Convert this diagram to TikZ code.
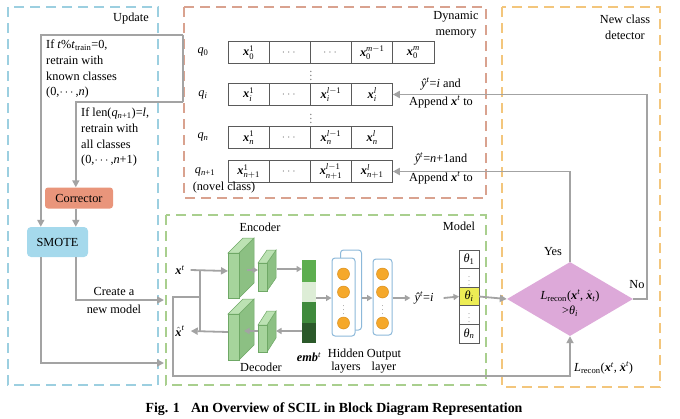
\documentclass[tikz,border=0pt]{standalone}
\usepackage{amsmath}
\usepackage{fontspec}
\setmainfont{Liberation Serif}
\usetikzlibrary{arrows.meta,shapes.geometric,calc}
\definecolor{lgray}{HTML}{A3A3A3}
\definecolor{cupd}{HTML}{9CCFE0}
\definecolor{cmem}{HTML}{D9A28F}
\definecolor{cdet}{HTML}{F3C67C}
\definecolor{cmod}{HTML}{A9CF8E}
\definecolor{ccorr}{HTML}{E9957B}
\definecolor{csmote}{HTML}{A5D9EC}
\definecolor{cdia}{HTML}{DDA9D9}
\definecolor{gfront}{HTML}{A6D49C}
\definecolor{gside}{HTML}{8CC083}
\definecolor{gtop}{HTML}{BCE2B3}
\definecolor{gedge}{HTML}{6FA866}
\definecolor{emba}{HTML}{5DAE4F}
\definecolor{embb}{HTML}{DDEDD6}
\definecolor{embc}{HTML}{3F8A3C}
\definecolor{embd}{HTML}{2B592A}
\definecolor{nblue}{HTML}{8DB9DA}
\definecolor{norange}{HTML}{F5A82A}
\definecolor{norangeb}{HTML}{D98E1C}
\definecolor{cyel}{HTML}{EDED55}
\definecolor{cellc}{HTML}{5A5A5A}
\newcommand{\I}[1]{\textit{#1}}
\newcommand{\R}[1]{\textup{#1}}
\newcommand{\bx}{\textbf{\textit{x}}}
\newcommand{\gblock}[6]{%
  \filldraw[fill=gside,draw=gedge,line width=.5pt] (#1+#3,#2) -- ++(#5,-#6) -- ++(0,#4) -- ++(-#5,#6) -- cycle;
  \filldraw[fill=gtop,draw=gedge,line width=.5pt] (#1,#2) -- ++(#5,-#6) -- ++(#3,0) -- ++(-#5,#6) -- cycle;
  \filldraw[fill=gfront,draw=gedge,line width=.5pt] (#1,#2) rectangle ++(#3,#4);
}
\tikzset{
  conn/.style={draw=lgray,line width=1.8pt},
  arr/.style={conn,-{Triangle[length=7pt,width=7pt]}},
  arrs/.style={conn,-{Triangle[length=5.5pt,width=6pt]}},
  dbox/.style={line width=1.3pt,dash pattern=on 10pt off 6pt},
  cell/.style={draw=cellc,line width=0.9pt,minimum width=41.2pt,minimum height=22pt,inner sep=0pt,outer sep=0pt,fill=white},
  tcell/.style={draw=cellc,line width=0.9pt,minimum width=20pt,minimum height=18.6pt,inner sep=0pt,outer sep=0pt,fill=white},
  lay/.style={draw=nblue,line width=1pt,rounded corners=3pt,fill=white,inner sep=0pt},
  neu/.style={circle,fill=norange,draw=norangeb,line width=0.5pt,minimum size=12pt,inner sep=0pt},
  lbl/.style={inner sep=0pt,align=center},
  dts/.style={inner sep=0pt,text=gray},
}
\begin{document}
\begin{tikzpicture}[x=1pt,y=-1pt,font=\fontsize{12.3}{15.6}\selectfont]
\useasboundingbox (0,0) rectangle (680,418);
% dashed regions
\draw[dbox,draw=cupd] (8,7) rectangle (158,385);
\draw[dbox,draw=cmem] (184,7) rectangle (486,198);
\draw[dbox,draw=cdet] (502,7) rectangle (660,387);
\draw[dbox,draw=cmod] (166,215) rectangle (486,385);
% titles
\node[lbl] (tup) at (131,19) {Update};
\node[lbl] (tmem) at (456,25) {Dynamic\\memory};
\node[lbl] (tdet) at (625,27) {New class\\detector};
\node[lbl] (tmod) at (459,226) {Model};
% update texts
\node[lbl,align=left,anchor=north west] (u1) at (46,40) {If \I{t}\%\I{t}\textsubscript{train}=0,\\retrain with\\known classes\\(0,$\cdots$,\I{n})};
\node[lbl,align=left,anchor=north west] (u2) at (81,108) {If len(\I{q}\textsubscript{\I{n}+1})=\I{l},\\retrain with\\all classes\\(0,$\cdots$,\I{n}+1)};
\node[fill=ccorr,rounded corners=3pt,minimum width=68pt,minimum height=21pt,inner sep=0pt] (corr) at (79,198) {Corrector};
\node[fill=csmote,rounded corners=4pt,minimum width=61pt,minimum height=30pt,inner sep=0pt] (smote) at (57.5,242) {SMOTE};
% memory rows
\node[cell] (a1) at (248.6,52.5) {$\bx^{\R{1}}_{\R{0}}$};
\node[cell] (a2) at (289.8,52.5) {\color{gray}$\cdots$};
\node[cell] (a3) at (331,52.5) {\color{gray}$\cdots$};
\node[cell] (a4) at (372.2,52.5) {$\bx^{\I{m}-\R{1}}_{\R{0}}$};
\node[cell] (a5) at (413.4,52.5) {$\bx^{\I{m}}_{\R{0}}$};
\node[cell] (i1) at (248.6,94.5) {$\bx^{\R{1}}_{\I{i}}$};
\node[cell] (i2) at (289.8,94.5) {\color{gray}$\cdots$};
\node[cell] (i3) at (331,94.5) {$\bx^{\I{l}-\R{1}}_{\I{i}}$};
\node[cell] (i4) at (372.2,94.5) {$\bx^{\I{l}}_{\I{i}}$};
\node[cell] (n1) at (248.6,137.5) {$\bx^{\R{1}}_{\I{n}}$};
\node[cell] (n2) at (289.8,137.5) {\color{gray}$\cdots$};
\node[cell] (n3) at (331,137.5) {$\bx^{\I{l}-\R{1}}_{\I{n}}$};
\node[cell] (n4) at (372.2,137.5) {$\bx^{\I{l}}_{\I{n}}$};
\node[cell] (m1) at (248.6,171.5) {$\bx^{\R{1}}_{\I{n}+\R{1}}$};
\node[cell] (m2) at (289.8,171.5) {\color{gray}$\cdots$};
\node[cell] (m3) at (331,171.5) {$\bx^{\I{l}-\R{1}}_{\I{n}+\R{1}}$};
\node[cell] (m4) at (372.2,171.5) {$\bx^{\I{l}}_{\I{n}+\R{1}}$};
\node[dts] (vd1) at (311,73) {$\vdots$};
\node[dts] (vd2) at (311,116) {$\vdots$};
\node[lbl] (q0) at (203,52) {\I{q}\textsubscript{0}};
\node[lbl] (qi) at (203,95) {\I{q}\textsubscript{\I{i}}};
\node[lbl] (qn) at (203,137) {\I{q}\textsubscript{\I{n}}};
\node[lbl] (qm) at (205,172) {\I{q}\textsubscript{\I{n}+1}};
\node[lbl] (nov) at (224,188) {(novel class)};
% bracket from memory to update
\coordinate (b1) at (183,35);
\coordinate (b2) at (183,102);
\draw[conn] (b1) -- (b2);
\draw[arr] (b1) -| ($(smote.north west)+(14,0)$);
\draw[arr] (b2) -| ($(corr.north west)+(31,0)$);
\draw[arr] ($(corr.south west)+(31,0)$) -- ($(smote.north west)+(49,0)$);
% SMOTE to model
\coordinate (mm1) at (164,300);
\coordinate (mm2) at (164,363);
\draw[arr] ($(smote.south west)+(49,0)$) |- (mm1);
\draw[arr] ($(smote.south west)+(14,0)$) |- (mm2);
\node[lbl,align=center] (cnm) at (114,300) {Create a\\[2.4pt]new model};
% model internals
\node[lbl] (xt) at (180,270) {$\bx^{\I{t}}$};
\node[lbl] (xh) at (180,331) {$\hat{\bx}^{\I{t}}$};
\gblock{228}{253}{11}{45}{15}{15}
\gblock{258}{263}{9}{28}{9}{13}
\gblock{228}{314}{11}{46}{15}{15}
\gblock{258}{325}{9}{27}{9}{14}
\coordinate (enc) at (228,271);
\coordinate (dec) at (228,332);
\coordinate (j1) at (200,271);
\coordinate (j2) at (200,332);
\coordinate (j3) at (200,297);
\coordinate (c1) at (173,376);
\draw[arr] ([xshift=6pt]xt.east) -- (enc);
\draw[arr] (dec) -- ([xshift=6pt]xh.east);
\draw[conn] (j1) -- (j2);
\draw[arrs] (247,270) -- (258,270);
\draw[arrs] (277,269) -- (302,269);
\draw[arrs] (302,331) -- (276,331);
\draw[arrs] (258,331) -- (244,331);
% emb
\fill[emba] (302,260) rectangle (316,282);
\fill[embb] (302,282) rectangle (316,302);
\fill[embc] (302,302) rectangle (316,323);
\fill[embd] (302,323) rectangle (316,343);
\node[minimum width=14pt,minimum height=83pt,inner sep=0pt] (emb) at (309,301.5) {};
\node[lbl] (embl) at (309,357) {\textbf{\textit{emb}}\textsuperscript{\I{t}}};
% layers
\node[lay,minimum width=21pt,minimum height=80pt] (hidb) at (351,290) {};
\node[lay,minimum width=23pt,minimum height=78pt] (hid) at (343.5,297) {};
\node[lay,minimum width=19pt,minimum height=76pt] (out) at (382.5,297) {};
\node[neu] (h1) at (343.5,274) {};
\node[neu] (h2) at (343.5,292) {};
\node[neu] (h3) at (343.5,323) {};
\node[neu] (o1) at (382.5,274) {};
\node[neu] (o2) at (382.5,292) {};
\node[neu] (o3) at (382.5,323) {};
\node[dts,font=\fontsize{8}{8}\selectfont] (hd) at (343.5,307) {$\vdots$};
\node[dts,font=\fontsize{8}{8}\selectfont] (od) at (382.5,307) {$\vdots$};
\node[lbl,font=\fontsize{12.3}{13.5}\selectfont] (hidl) at (346,361) {Hidden\\layers};
\node[lbl,font=\fontsize{12.3}{13.5}\selectfont] (outl) at (384,361) {Output\\layer};
\node[lbl] (encl) at (260,227) {Encoder};
\node[lbl] (decl) at (261,367) {Decoder};
\node[lbl] (yh) at (424,298) {\I{ŷ}\textsuperscript{\I{t}}=\I{i}};
% theta column
\node[tcell] (t1) at (469,259.3) {\I{θ}\textsubscript{1}};
\node[tcell] (t2) at (469,277.9) {\color{gray}\fontsize{8}{8}\selectfont$\vdots$};
\node[tcell,fill=cyel] (t3) at (469,296.5) {\I{θ}\textsubscript{\I{i}}};
\node[tcell] (t4) at (469,315.1) {\color{gray}\fontsize{8}{8}\selectfont$\vdots$};
\node[tcell] (t5) at (469,333.7) {\I{θ}\textsubscript{\I{n}}};
\draw[arrs] (emb.east |- 0,298) -- (hid.west |- 0,298);
\draw[arrs] (hidb.east |- 0,298) -- (out.west |- 0,298);
\draw[arrs] (out.east |- 0,298) -- ([xshift=-4pt]yh.west);
\draw[arrs] ([xshift=10pt]yh.east) -- (t3.west);
% detector
\node[diamond,fill=cdia,minimum width=126pt,minimum height=74pt,inner sep=0pt] (dia) at (570,299) {};
\node[lbl] (diat) at (570,303) {\I{L}\textsubscript{recon}($\bx^{\I{t}}$, $\hat{\bx}_{\I{t}}$)\\[-0.6pt]>\I{θ}\textsubscript{\I{i}}};
\draw[arr] (t3.east) -- (dia.west);
\draw[arr] (j3) -| (c1) -| (dia.south);
\node[lbl,anchor=west] (lr) at (574,368) {\I{L}\textsubscript{recon}($\bx^{\I{t}}$, $\hat{\bx}^{\I{t}}$)};
\coordinate (nc) at (647,299);
\draw[arr] (dia.east) -- (nc) |- (i4.east);
\draw[arr] (dia.north) |- (m4.east);
\node[lbl] (yes) at (553,252) {Yes};
\node[lbl] (no) at (637,285) {No};
\node[lbl] (ap1) at (441,93) {\I{ŷ}\textsuperscript{\I{t}}=\I{i} and\\[2.4pt]Append $\bx^{\I{t}}$ to};
\node[lbl] (ap2) at (441,168.5) {\I{ŷ}\textsuperscript{\I{t}}=\I{n}+1and\\[3.4pt]Append $\bx^{\I{t}}$ to};
% caption
\node[lbl,font=\bfseries\fontsize{13.9}{16}\selectfont] (cap) at (334,409) {Fig. 1\hspace{0.8em}An Overview of SCIL in Block Diagram Representation};
\end{tikzpicture}
\end{document}
